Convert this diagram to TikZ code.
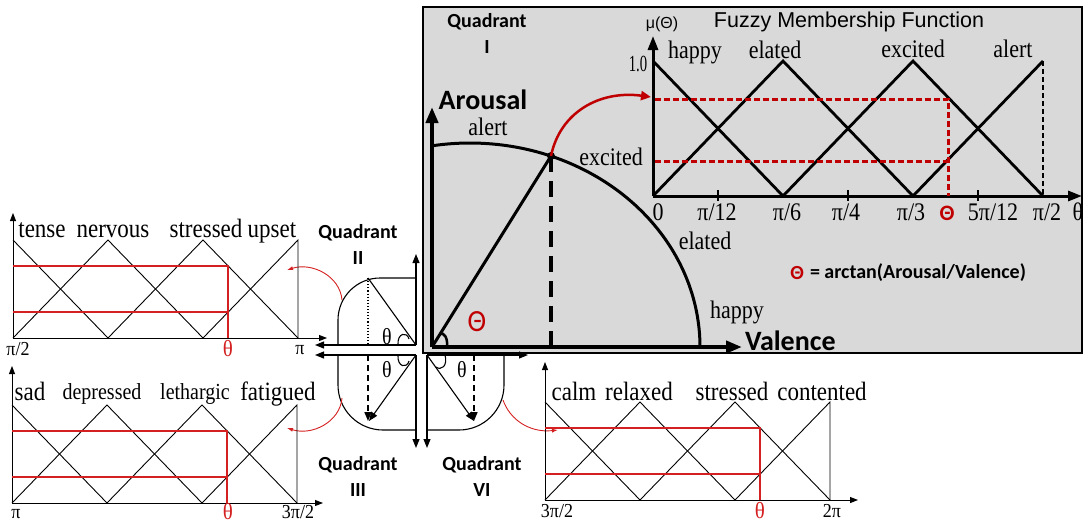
\documentclass[tikz,border=0pt]{standalone}
\usepackage{fontspec}
\setmainfont{Liberation Serif}
\newfontfamily\calib{Carlito}
\newfontfamily\arialf{Liberation Sans}
\usetikzlibrary{arrows.meta}
\definecolor{boxgray}{HTML}{D9D9D9}
\definecolor{dred}{HTML}{C00000}
\definecolor{lred}{HTML}{D42020}
\newcommand{\minichart}[2]{%
 \draw[thinl,-{Triangle[length=8pt,width=6pt]}] (0,0) -- (0,#1);
 \draw[thinl,-{Triangle[length=8pt,width=6pt]}] (0,0) -- (#2,0);
 \draw[thinl] (0,-98) -- (95,0);
 \draw[thinl] (0,0) -- (95,-98) -- (190,0);
 \draw[thinl] (95,0) -- (190,-98) -- (285,0);
 \draw[thinl] (190,0) -- (285,-98) -- (285,0);
 \draw[redl] (0,-72) -- (215,-72) -- (215,0);
 \draw[redl] (0,-26) -- (215,-26);
}
\begin{document}
\begin{tikzpicture}[x=1pt,y=-1pt,
  txt/.style={inner sep=0pt,outer sep=0pt},
  ser/.style={txt,anchor=base,yscale=1.15,font=\fontsize{22}{24}\selectfont},
  sersm/.style={txt,anchor=base,yscale=1.15,font=\fontsize{20}{22}\selectfont},
  serlab/.style={txt,anchor=base,yscale=1.15,font=\fontsize{23}{25}\selectfont},
  tick/.style={txt,anchor=base,yscale=1.1,font=\fontsize{18}{20}\selectfont},
  redth/.style={txt,anchor=base,yscale=1.1,text=lred,font=\fontsize{21}{23}\selectfont},
  quad/.style={txt,font=\calib\bfseries\fontsize{20}{22}\selectfont},
  axlab/.style={txt,font=\calib\bfseries\fontsize{28}{30}\selectfont},
  thinl/.style={line width=0.9pt},
  redl/.style={lred,line width=1.1pt},
  qline/.style={line width=1.1pt},
  tipS/.style={-{Triangle[length=9pt,width=7pt]}},
  thick3/.style={line width=2.8pt},
  reddash/.style={dred,line width=3pt,dash pattern=on 6pt off 3pt}
]
\useasboundingbox (0,0) rectangle (1083,523);

% ---------------- Quadrant I box
\draw[line width=1.2pt,fill=boxgray] (423,7) rectangle (1082,353);
\node[quad] (q1a) at (487,22) {Quadrant};
\node[quad] (q1b) at (487,47) {I};
\coordinate (O1) at (432,347);
\coordinate (A1) at (432,107);
\coordinate (V1) at (742,347);
\coordinate (P) at (551,156);
\coordinate (PB) at (551,347);
\coordinate (F1) at (651,97);
\draw[line width=3pt] plot[domain=0:99.5,samples=80] ({470+230*cos(\x)},{347-204*sin(\x)});
\draw[line width=4pt,-{Triangle[length=16pt,width=12pt]}] (O1) -- (A1);
\draw[line width=4pt,-{Triangle[length=16pt,width=12pt]}] (O1) -- (V1);
\draw[line width=3pt] (O1) -- (P);
\draw[line width=3.5pt,dash pattern=on 16pt off 9pt] (P) -- (PB);
\fill (P) circle (4);
\draw[line width=2.5pt] (447,347) .. controls (448,338) and (444,332) .. (440,334);
\draw[dred,line width=2.5pt,-{Triangle[length=10pt,width=9pt]}] (P) .. controls (560,112) and (600,90) .. (F1);
\node[axlab] (arousal) at (483,100) {Arousal};
\node[axlab,anchor=west] (valence) at (745,341) {Valence};
\node[txt,text=dred,yscale=1.1,font=\calib\fontsize{28}{30}\selectfont] (th1) at (477,322) {Θ};
\node[ser] (l-alert) at (488,135) {alert};
\node[ser] (l-excited) at (611,165) {excited};
\node[ser] (l-elated) at (705,249) {elated};
\node[ser] (l-happy) at (737,318) {happy};

% ---------------- Fuzzy membership chart
\coordinate (FO) at (653,196);
\coordinate (FY) at (653,36);
\coordinate (FX) at (1082,196);
\draw[line width=3pt,-{Triangle[length=14pt,width=10pt]}] (FO) -- (FY);
\draw[line width=3pt,-{Triangle[length=14pt,width=10pt]}] (FO) -- (FX);
\draw[thick3] (653,61) -- (783,196);
\draw[thick3] (653,196) -- (783,61) -- (913,196);
\draw[thick3] (783,196) -- (913,61) -- (1043,196);
\draw[thick3] (913,196) -- (1043,61);
\draw[thick3,dash pattern=on 5pt off 3pt] (1043,61) -- (1043,196);
\foreach \t in {718,848,978} \draw[line width=2.5pt] (\t,190) -- (\t,201);
\draw[reddash] (655,99) -- (948,99) -- (948,196);
\draw[reddash] (655,161) -- (948,161);
\node[txt,font=\arialf\fontsize{21.5}{23}\selectfont] (title) at (849,22) {Fuzzy Membership Function};
\node[txt,font=\arialf\fontsize{16}{18}\selectfont] (mu) at (662,24) {μ(Θ)};
\node[txt,font=\fontsize{21}{23}\selectfont,xscale=0.7,yscale=1.1] (one) at (638,64) {1.0};
\node[ser] (f-happy) at (695,58) {happy};
\node[ser] (f-elated) at (775,58) {elated};
\node[ser] (f-excited) at (913,57) {excited};
\node[ser] (f-alert) at (1013,57) {alert};
\node[ser] (t0) at (658,220) {0};
\node[ser] (t1) at (717,220) {π/12};
\node[ser] (t2) at (787,220) {π/6};
\node[ser] (t3) at (846,220) {π/4};
\node[ser] (t4) at (911,220) {π/3};
\node[txt,text=dred,font=\calib\bfseries\fontsize{22}{24}\selectfont] (tth) at (947,213) {Θ};
\node[ser] (t5) at (993,220) {5π/12};
\node[ser] (t6) at (1047,220) {π/2};
\node[ser] (t7) at (1078,220) {θ};
\node[txt,text=dred,font=\calib\bfseries\fontsize{20}{22}\selectfont] (eqth) at (797,273) {Θ};
\node[txt,anchor=west,font=\calib\bfseries\fontsize{20}{22}\selectfont] (eq) at (810,273) {= arctan(Arousal/Valence)};

% ---------------- Quadrant II, III, IV sketches
\coordinate (O2) at (416,345);
\coordinate (O3) at (416,355);
\coordinate (O4) at (427,355);
\draw[qline,tipS] (O2) -- (416,254);
\draw[qline,tipS] (O2) -- (315,345);
\draw[qline,tipS] (O3) -- (315,355);
\draw[qline,tipS] (O3) -- (416,448);
\draw[qline,tipS] (O4) -- (427,448);
\draw[qline,tipS] (O4) -- (528,355);
\draw[qline,rounded corners=42pt] (416,278) -| (338,345);
\draw[qline,rounded corners=45pt] (338,355) |- (416,430);
\draw[qline,rounded corners=45pt] (427,430) -| (504,355);
\coordinate (P2) at (368,278);
\coordinate (P3) at (369,421);
\coordinate (P4) at (474,421);
\draw[qline] (O2) -- (P2);
\draw[qline,dotted,line width=1.3pt] (P2) -- (368,345);
\draw[qline,tipS] (O3) -- (P3);
\draw[line width=1.6pt,dash pattern=on 6pt off 4pt,tipS] (368,355) -- (368,421);
\draw[qline,tipS] (O4) -- (P4);
\draw[line width=1.6pt,dash pattern=on 6pt off 4pt,tipS] (474,355) -- (474,421);
\draw[qline] (398,345) .. controls (397,333) and (407,331) .. (409,339);
\draw[qline] (398,355) .. controls (397,367) and (407,369) .. (409,361);
\draw[qline] (445,355) .. controls (448,366) and (441,371) .. (436,367);
\node[sersm] (th2) at (387,344) {θ};
\node[sersm] (th3) at (387,377) {θ};
\node[sersm] (th4) at (462,377) {θ};
\node[quad] (q2a) at (358,233) {Quadrant};
\node[quad] (q2b) at (358,258) {II};
\node[quad] (q3a) at (358,465) {Quadrant};
\node[quad] (q3b) at (358,490) {III};
\node[quad] (q4a) at (482,465) {Quadrant};
\node[quad] (q4b) at (482,490) {VI};
\coordinate (R2s) at (342,300);
\coordinate (R2e) at (287,270);
\coordinate (R3s) at (342,398);
\coordinate (R3e) at (287,428);
\coordinate (R4s) at (503,400);
\coordinate (R4e) at (558,430);
\draw[lred,line width=0.9pt,-{Latex[length=6pt,width=4pt]}] (R2s) .. controls (340,276) and (312,262) .. (R2e);
\draw[lred,line width=0.9pt,-{Latex[length=6pt,width=4pt]}] (R3s) .. controls (340,422) and (312,436) .. (R3e);
\draw[lred,line width=0.9pt,-{Latex[length=6pt,width=4pt]}] (R4s) .. controls (510,420) and (530,433) .. (R4e);

% ---------------- small charts
\begin{scope}[shift={(13,338)}]
\minichart{-125}{314}
\end{scope}
\node[serlab] (c2a) at (42,237) {tense};
\node[serlab] (c2b) at (113,237) {nervous};
\node[serlab] (c2c) at (206,237) {stressed};
\node[serlab] (c2d) at (272,237) {upset};
\node[tick] (c2t0) at (18,355) {π/2};
\node[redth] (c2t1) at (228,356) {θ};
\node[tick] (c2t2) at (300,354) {π};

\begin{scope}[shift={(12,503)}]
\minichart{-137}{311}
\end{scope}
\node[serlab] (c3a) at (30,400) {sad};
\node[sersm] (c3b) at (102,399) {depressed};
\node[sersm] (c3c) at (195,399) {lethargic};
\node[serlab] (c3d) at (278,400) {fatigued};
\node[tick] (c3t0) at (16,518) {π};
\node[redth] (c3t1) at (228,519) {θ};
\node[tick] (c3t2) at (298,518) {3π/2};

\begin{scope}[shift={(545,500)}]
\minichart{-138}{313}
\end{scope}
\node[serlab] (c4a) at (574,400) {calm};
\node[serlab] (c4b) at (639,400) {relaxed};
\node[serlab] (c4c) at (732,400) {stressed};
\node[serlab] (c4d) at (822,400) {contented};
\node[tick] (c4t0) at (557,517) {3π/2};
\node[redth] (c4t1) at (760,518) {θ};
\node[tick] (c4t2) at (832,517) {2π};
\end{tikzpicture}
\end{document}
